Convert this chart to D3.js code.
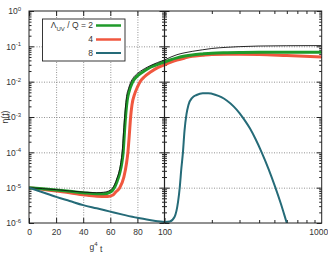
<!DOCTYPE html>
<html><head><meta charset="utf-8">
<script src="https://cdn.jsdelivr.net/npm/d3@7"></script>
<style>
html,body{margin:0;padding:0;background:#fff;}
svg{display:block;font-family:"Liberation Sans",Arial,sans-serif;}
</style></head>
<body><svg id="c" width="328" height="255"></svg>
<script>
// ---- data ----
const tBlack = [0,10,20,30,40,50,55,60,63,65,67,68,69,70,71,72,73.5,75,77,80,85,90,95,100,110,120,135,150,175,200,250,300,400,600,1000];
const vBlack = [1e-5,9.4e-6,8.8e-6,8.1e-6,7.5e-6,7.2e-6,7.4e-6,8.5e-6,1.2e-5,1.9e-5,3.5e-5,6e-5,1.3e-4,5e-4,1.6e-3,3.8e-3,6.5e-3,9.5e-3,1.3e-2,1.7e-2,2.3e-2,2.9e-2,3.5e-2,4.1e-2,0.05,0.058,0.066,0.072,0.08,0.087,0.094,0.098,0.102,0.104,0.105];
const tGreen = [0,10,20,30,40,50,55,60,63,65,67,68.5,69.5,70.5,71.5,72.5,74,76,78,80,85,90,95,100,110,120,135,150,175,200,250,300,400,600,1000];
const vGreen = [1e-5,9.3e-6,8.6e-6,7.9e-6,7.2e-6,6.7e-6,6.7e-6,7.5e-6,1e-5,1.5e-5,2.6e-5,5e-5,1e-4,4e-4,1.3e-3,3e-3,5.5e-3,9e-3,1.2e-2,1.45e-2,2e-2,2.6e-2,3.1e-2,3.6e-2,0.042,0.047,0.053,0.057,0.061,0.064,0.066,0.067,0.068,0.068,0.068];
const tRed = [0,10,20,30,40,50,58,62,64,67,70,72,73,74,75,76,78,80,82,85,90,95,100,110,120,135,150,175,200,250,300,400,600,1000];
const vRed = [1e-5,9e-6,8e-6,7.2e-6,6.3e-6,5.7e-6,5.6e-6,6.2e-6,7.5e-6,1e-5,2e-5,5e-5,1e-4,3e-4,1e-3,2.2e-3,4.5e-3,7e-3,1e-2,1.35e-2,1.9e-2,2.5e-2,3e-2,0.036,0.041,0.047,0.052,0.056,0.059,0.06,0.06,0.059,0.055,0.05];
const tTeal = [0,10,20,30,40,50,60,70,80,90,95,100,108,116,122,125,128,131,134,138,142,150,160,175,190,210,230,250,275,300,320,350,380,415,460,505,550,595,610];
const vTeal = [1e-5,7.4e-6,5.5e-6,4.2e-6,3.2e-6,2.6e-6,2.1e-6,1.7e-6,1.4e-6,1.2e-6,1.12e-6,1.07e-6,1.1e-6,1.5e-6,4e-6,1e-5,3.5e-5,1e-4,4e-4,1.2e-3,2.2e-3,3.5e-3,4.2e-3,4.68e-3,4.68e-3,4.27e-3,3.63e-3,2.88e-3,2e-3,1.29e-3,8.7e-4,4.7e-4,2.34e-4,1e-4,3.3e-5,1.07e-5,3.5e-6,1.12e-6,7.8e-7];
const legendLabels = ["\u039B", "4", "8"];
const xTicksLeft = [0,20,40,60,80,100];
const xTickLabelsLeft = ["0","20","40","60","80","100"];
const xMinorRight = [200,300,400,500,600,700,800,900];
const yDecades = [-6,-5,-4,-3,-2,-1,0];

// ---- layout ----
const L = 29, M = 164.5, R = 321.7, T = 11, B = 223;
const svg = d3.select("#c");
const xL = d3.scaleLinear().domain([0,100]).range([L,M]);
const xR = d3.scaleLog().domain([100,1000]).range([M,R]);
const y = d3.scaleLog().domain([1e-6,1]).range([B,T]);
const gridCol = "#777", axCol = "#222", txtCol = "#333";

const defs = svg.append("defs");
defs.append("clipPath").attr("id","clipL").append("rect").attr("x",L).attr("y",T).attr("width",M-L).attr("height",B-T);
defs.append("clipPath").attr("id","clipR").append("rect").attr("x",M).attr("y",T).attr("width",R-M).attr("height",B-T);

// horizontal gridlines (both panels)
const decVals = yDecades.map(e => Math.pow(10,e));
svg.append("g").attr("transform",`translate(${L},0)`)
  .call(d3.axisLeft(y).tickValues(decVals.slice(1,-1)).tickSize(-(R-L)).tickFormat(""))
  .call(g => g.select(".domain").remove())
  .selectAll("line").attr("stroke",gridCol).attr("stroke-width",0.8).attr("stroke-dasharray","1,1.5");
// vertical gridlines left panel
svg.append("g").attr("transform",`translate(0,${B})`)
  .call(d3.axisBottom(xL).tickValues([20,40,60,80]).tickSize(-(B-T)).tickFormat(""))
  .call(g => g.select(".domain").remove())
  .selectAll("line").attr("stroke",gridCol).attr("stroke-width",0.8).attr("stroke-dasharray","1,1.5");

// minor y values
const minorY = [];
for (let e=-6;e<0;e++) for (let k=2;k<=9;k++) minorY.push(k*Math.pow(10,e));

function yTicks(x, dir){
  const g = svg.append("g").attr("transform",`translate(${x},0)`);
  g.call((dir>0? d3.axisLeft(y).tickSize(-5) : d3.axisRight(y).tickSize(-5)).tickValues(decVals).tickFormat(""));
  g.select(".domain").remove();
  g.selectAll("line").attr("stroke",axCol);
  const g2 = svg.append("g").attr("transform",`translate(${x},0)`);
  g2.call((dir>0? d3.axisLeft(y).tickSize(-2.5) : d3.axisRight(y).tickSize(-2.5)).tickValues(minorY).tickFormat(""));
  g2.select(".domain").remove();
  g2.selectAll("line").attr("stroke",axCol);
}
yTicks(L, 1); yTicks(M, -1); yTicks(M, 1); yTicks(R, -1);

// x ticks left panel
const gxb = svg.append("g").attr("transform",`translate(0,${B})`)
  .call(d3.axisBottom(xL).tickValues(xTicksLeft).tickSize(-5).tickPadding(6).tickFormat((d,i)=>xTickLabelsLeft[i]));
gxb.select(".domain").remove();
gxb.selectAll("line").attr("stroke",axCol);
gxb.selectAll("text").attr("fill",txtCol).attr("font-size",8.5);
const gxt = svg.append("g").attr("transform",`translate(0,${T})`)
  .call(d3.axisTop(xL).tickValues(xTicksLeft).tickSize(-5).tickFormat(""));
gxt.select(".domain").remove();
gxt.selectAll("line").attr("stroke",axCol);
// x ticks right panel
const gxrb = svg.append("g").attr("transform",`translate(0,${B})`)
  .call(d3.axisBottom(xR).tickValues(xMinorRight).tickSize(-3).tickFormat(""));
gxrb.select(".domain").remove(); gxrb.selectAll("line").attr("stroke",axCol);
const gxrt = svg.append("g").attr("transform",`translate(0,${T})`)
  .call(d3.axisTop(xR).tickValues(xMinorRight).tickSize(-3).tickFormat(""));
gxrt.select(".domain").remove(); gxrt.selectAll("line").attr("stroke",axCol);
const gxr = svg.append("g").attr("transform",`translate(0,${B})`)
  .call(d3.axisBottom(xR).tickValues([1000]).tickSize(0).tickPadding(6).tickFormat(d3.format("d")));
gxr.select(".domain").remove();
gxr.selectAll("text").attr("fill",txtCol).attr("font-size",8.5).attr("text-anchor","end").attr("x",6);

// y tick labels with superscripts
const gyl = svg.append("g").attr("transform",`translate(${L},0)`)
  .call(d3.axisLeft(y).tickValues(decVals).tickSize(0).tickPadding(8).tickFormat(""));
gyl.select(".domain").remove();
gyl.selectAll(".tick").each(function(d){
  const e = Math.round(Math.log10(d));
  const t = d3.select(this).select("text").attr("fill",txtCol).attr("font-size",8.5).attr("dy","0.35em");
  t.text(null);
  t.append("tspan").text("10");
  t.append("tspan").attr("font-size",6).attr("dy","-0.6em").text(String(e));
});

// curves
const series = [
  {t:tRed, v:vRed, col:"#f0573f", w:3},
  {t:tGreen, v:vGreen, col:"#1f9a2a", w:3},
  {t:tBlack, v:vBlack, col:"#111", w:0.9},
  {t:tTeal, v:vTeal, col:"#256b78", w:2}
];
series.forEach(s => {
  const pts = s.t.map((t,i)=>[t,s.v[i]]);
  const left = pts.filter(p=>p[0]<=100), right = pts.filter(p=>p[0]>=100);
  const lineL = d3.line().x(p=>xL(p[0])).y(p=>y(p[1])).curve(d3.curveMonotoneX);
  const lineR = d3.line().x(p=>xR(p[0])).y(p=>y(p[1])).curve(d3.curveMonotoneX);
  svg.append("path").attr("d",lineL(left)).attr("clip-path","url(#clipL)")
    .attr("fill","none").attr("stroke",s.col).attr("stroke-width",s.w).attr("stroke-linejoin","round");
  svg.append("path").attr("d",lineR(right)).attr("clip-path","url(#clipR)")
    .attr("fill","none").attr("stroke",s.col).attr("stroke-width",s.w).attr("stroke-linejoin","round");
});

// frame
svg.append("rect").attr("x",L).attr("y",T).attr("width",R-L).attr("height",B-T)
  .attr("fill","none").attr("stroke",axCol).attr("stroke-width",1);
svg.append("line").attr("x1",M).attr("x2",M).attr("y1",T).attr("y2",B).attr("stroke",axCol).attr("stroke-width",1.2);

// legend
const lg = svg.append("g");
lg.append("rect").attr("x",42.5).attr("y",19).attr("width",82.5).attr("height",42)
  .attr("fill","#fff").attr("stroke",axCol).attr("stroke-width",0.9);
const legCols = ["#1f9a2a","#f0573f","#256b78"];
const legY = [25.5,39.5,53];
legY.forEach((yy,i)=>{
  lg.append("line").attr("x1",96).attr("x2",121).attr("y1",yy).attr("y2",yy)
    .attr("stroke",legCols[i]).attr("stroke-width",i<2?2.5:2);
});
const lt0 = lg.append("text").attr("x",93).attr("y",legY[0]).attr("dy","0.35em").attr("text-anchor","end")
  .attr("font-size",8.5).attr("fill",txtCol);
lt0.append("tspan").text(legendLabels[0]);
lt0.append("tspan").attr("font-size",6).attr("dy","0.35em").text("UV");
lt0.append("tspan").attr("dy","-0.35em").text(" / Q = 2");
[1,2].forEach(i=>{
  lg.append("text").attr("x",93).attr("y",legY[i]).attr("dy","0.35em").attr("text-anchor","end")
    .attr("font-size",8.5).attr("fill",txtCol).text(legendLabels[i]);
});

// axis titles
const xt = svg.append("text").attr("x",96).attr("y",250).attr("text-anchor","middle").attr("font-size",8.5).attr("fill",txtCol);
xt.append("tspan").text("g");
xt.append("tspan").attr("font-size",6).attr("dy","-0.6em").text("4");
xt.append("tspan").attr("dy","0.6em").text(" t");
svg.append("text").attr("transform","translate(8,117) rotate(-90)").attr("text-anchor","middle")
  .attr("font-size",8.5).attr("fill",txtCol).text("n(t)");
</script></body></html>
